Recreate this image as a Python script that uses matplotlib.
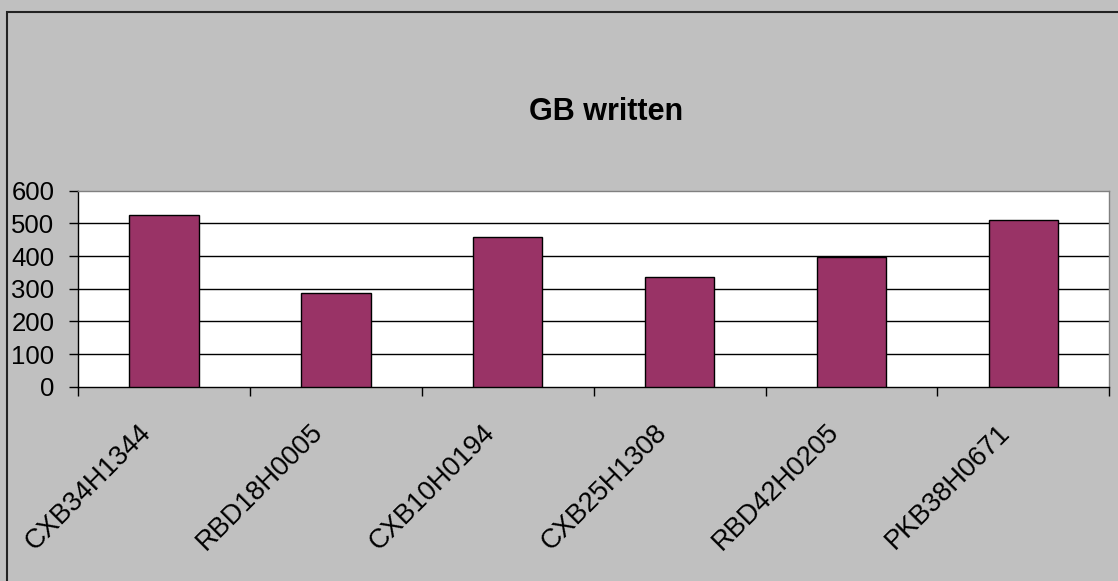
import matplotlib
matplotlib.use("Agg")
import matplotlib.pyplot as plt
import matplotlib.patches as patches
import matplotlib.transforms as mtransforms
import numpy as np

# tapes and GB written per tape
tapes = ["CXB34H1344", "RBD18H0005", "CXB10H0194", "CXB25H1308", "RBD42H0205", "PKB38H0671"]
gb_written = [527, 287, 458, 337, 396, 509]
yticks = [0, 100, 200, 300, 400, 500, 600]

plt.rcParams["font.family"] = ["Liberation Sans", "DejaVu Sans"]

fig = plt.figure(figsize=(11.18, 5.81), dpi=100, facecolor="#C0C0C0")
W, H = 1118, 581

# chart border (left/top edges only fall inside the canvas)
fig.patches.append(patches.Rectangle((6.5 / W, -0.1), 1.2, 1.1 - 11.5 / H,
                                     transform=fig.transFigure, fill=False,
                                     edgecolor="#222222", linewidth=1.5))

ax = fig.add_axes([78 / W, 1 - 386.7 / H, (1109.3 - 78) / W, 196 / H])
ax.set_facecolor("white")

x = np.arange(len(tapes))
ax.bar(x, gb_written, width=0.404, color="#993366", edgecolor="black", linewidth=1, zorder=3)

ax.set_xlim(-0.5, len(tapes) - 0.5)
ax.set_ylim(0, 600)
ax.set_yticks(yticks)
ax.set_yticklabels([str(v) for v in yticks], fontsize=18.5)
for v in yticks[1:-1]:
    ax.axhline(v, color="black", linewidth=1, zorder=1)

# labels at the bar centres, tick marks between categories
ax.set_xticks(x)
ax.set_xticklabels(tapes, fontsize=19.5, rotation=45, ha="right", va="center",
                   rotation_mode="anchor")
ax.set_xticks(np.arange(len(tapes) + 1) - 0.5, minor=True)
ax.tick_params(axis="x", which="major", length=0, pad=30)
ax.tick_params(axis="x", which="minor", length=6.5, width=1, direction="out", color="black")
ax.tick_params(axis="y", length=6.5, width=1, direction="out", pad=10.5, colors="black")
shift = mtransforms.ScaledTranslation(-17 / 100, 0, fig.dpi_scale_trans)
for lbl in ax.get_xticklabels():
    lbl.set_transform(lbl.get_transform() + shift)

ax.spines["left"].set_color("black")
ax.spines["bottom"].set_color("black")
ax.spines["top"].set_color("#808080")
ax.spines["right"].set_color("#808080")
for s in ax.spines.values():
    s.set_linewidth(1)

fig.text(606 / W, 1 - 112 / H, "GB written", ha="center", va="center",
         fontsize=22, fontweight="bold")

fig.savefig("out.png", dpi=100, facecolor=fig.get_facecolor())
